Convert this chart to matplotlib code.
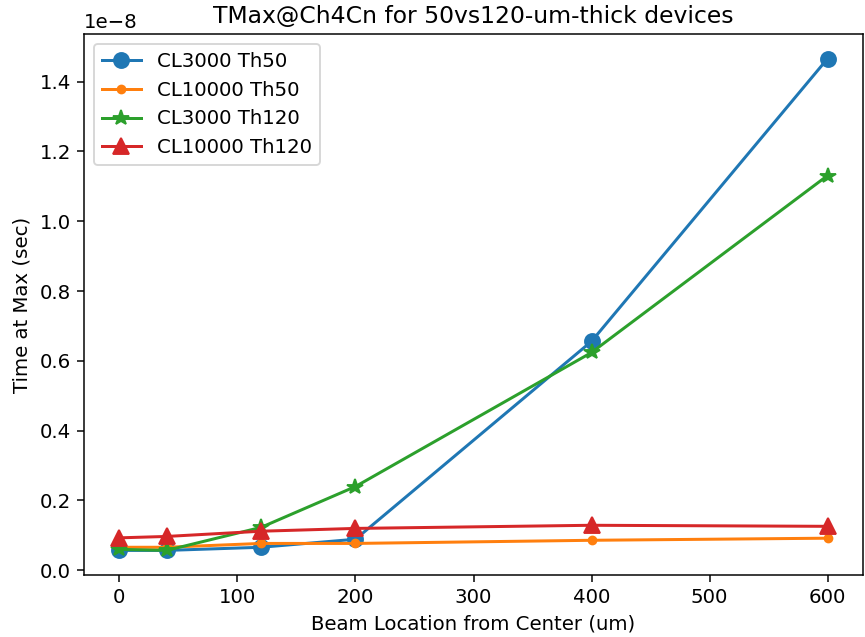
import matplotlib

matplotlib.use("Agg")
import matplotlib.pyplot as plt

beam_location = [0, 40, 120, 200, 400, 600]
cl3000_th50 = [0.057e-8, 0.057e-8, 0.066e-8, 0.089e-8, 0.656e-8, 1.466e-8]
cl10000_th50 = [0.066e-8, 0.066e-8, 0.077e-8, 0.077e-8, 0.086e-8, 0.092e-8]
cl3000_th120 = [0.060e-8, 0.057e-8, 0.123e-8, 0.240e-8, 0.624e-8, 1.131e-8]
cl10000_th120 = [0.093e-8, 0.097e-8, 0.112e-8, 0.120e-8, 0.129e-8, 0.126e-8]

dpi = 135
plt.rcParams["font.size"] = 10.5
plt.rcParams["lines.linewidth"] = 1.6
figure, axis = plt.subplots(figsize=(865 / dpi, 637 / dpi), dpi=dpi)
axis.plot(beam_location, cl3000_th50, marker="o", markersize=8, label="CL3000 Th50")
axis.plot(beam_location, cl10000_th50, marker="o", markersize=4.2, label="CL10000 Th50")
axis.plot(beam_location, cl3000_th120, marker="*", markersize=8.5, label="CL3000 Th120")
axis.plot(beam_location, cl10000_th120, marker="^", markersize=8.5, label="CL10000 Th120")

axis.set_title("TMax@Ch4Cn for 50vs120-um-thick devices", fontsize=12.5)
axis.set_xlabel("Beam Location from Center (um)")
axis.set_ylabel("Time at Max (sec)")
axis.legend(loc="upper left")

figure.subplots_adjust(left=84 / 865, right=863 / 865, top=1 - 34 / 637, bottom=1 - 575 / 637)
figure.savefig("out.png", dpi=dpi)
plt.close(figure)
